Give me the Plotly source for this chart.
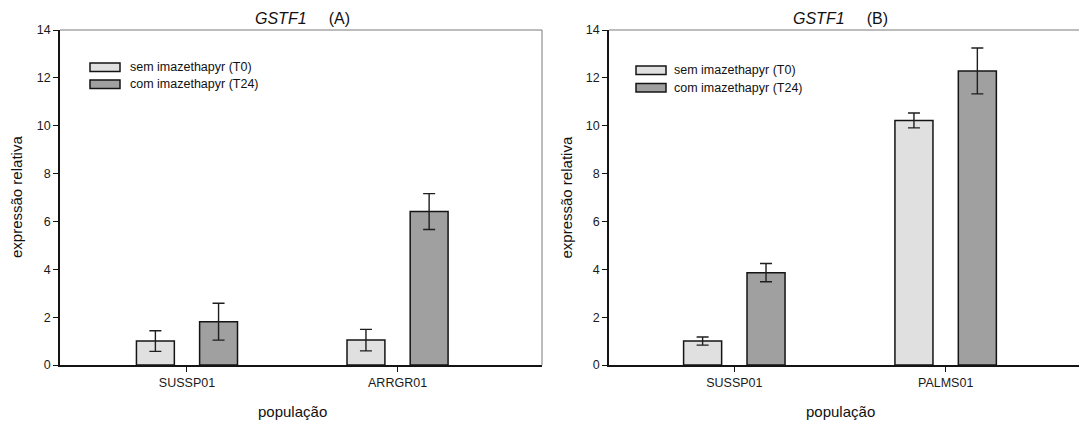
import plotly.graph_objects as go

# Relative GSTF1 expression, two experiments (A) and (B)
pops_a = ["SUSSP01", "ARRGR01"]
t0_a = [1.00, 1.04]
t0_a_err = [0.43, 0.45]
t24_a = [1.81, 6.41]
t24_a_err = [0.77, 0.75]

pops_b = ["SUSSP01", "PALMS01"]
t0_b = [1.00, 10.22]
t0_b_err = [0.17, 0.31]
t24_b = [3.86, 12.29]
t24_b_err = [0.38, 0.96]

series_names = ["sem imazethapyr (T0)", "com imazethapyr (T24)"]
y_ticks = [0, 2, 4, 6, 8, 10, 12, 14]

W, H = 1079, 421
FONT = "Liberation Sans, Arial, sans-serif"
LIGHT, DARK = "#e0e0e0", "#a0a0a0"
EDGE = "#141414"


def px(x):
    return x / W


def py(y):
    return 1 - y / H


fig = go.Figure()

panels = [
    dict(x="x", y="y", pops=pops_a, t0=t0_a, t0e=t0_a_err, t24=t24_a, t24e=t24_a_err),
    dict(x="x2", y="y2", pops=pops_b, t0=t0_b, t0e=t0_b_err, t24=t24_b, t24e=t24_b_err),
]

bar_w = 0.18
shift = 0.15
for p in panels:
    pos = list(range(len(p["pops"])))
    for vals, errs, col, off in [
        (p["t0"], p["t0e"], LIGHT, -shift - bar_w / 2),
        (p["t24"], p["t24e"], DARK, shift - bar_w / 2),
    ]:
        fig.add_trace(go.Bar(
            x=pos, y=vals, xaxis=p["x"], yaxis=p["y"],
            width=bar_w, offset=off,
            marker=dict(color=col, line=dict(color=EDGE, width=1.5)),
            error_y=dict(type="data", array=errs, visible=True,
                         color="#1e1e1e", thickness=1.4, width=6),
            showlegend=False,
        ))

ydom = [py(365), py(30)]
axis_common = dict(
    showgrid=False, zeroline=False, showline=True, linecolor=EDGE, linewidth=1.5,
    ticks="outside", ticklen=5, tickwidth=1, tickcolor=EDGE, automargin=False,
    tickfont=dict(family=FONT, size=12.5, color="#1a1a1a"),
)

fig.update_layout(
    width=W, height=H, autosize=False,
    margin=dict(l=0, r=0, t=0, b=0, pad=0),
    paper_bgcolor="white", plot_bgcolor="white",
    barmode="overlay",
    xaxis=dict(domain=[px(60), px(542)], range=[-0.603, 1.686],
               tickvals=[0, 1], ticktext=pops_a, anchor="y", **axis_common),
    yaxis=dict(domain=ydom, range=[0, 14], tickvals=y_ticks, anchor="x", **axis_common),
    xaxis2=dict(domain=[px(609), 1.0], range=[-0.593, 1.631],
                tickvals=[0, 1], ticktext=pops_b, anchor="y2", **axis_common),
    yaxis2=dict(domain=ydom, range=[0, 14], tickvals=y_ticks, anchor="x2", **axis_common),
)

# frame lines on top and right
shapes = [
    dict(type="line", xref="paper", yref="paper", x0=px(60), x1=px(542), y0=py(30), y1=py(30),
         line=dict(color="#7a7a7a", width=1)),
    dict(type="line", xref="paper", yref="paper", x0=px(542), x1=px(542), y0=py(30), y1=py(365),
         line=dict(color="#7a7a7a", width=1)),
    dict(type="line", xref="paper", yref="paper", x0=px(609), x1=1.0, y0=py(30), y1=py(30),
         line=dict(color="#7a7a7a", width=1)),
]

annotations = []
# panel titles, axis titles and legends
for title, tx, xt_x, yt_x, leg_box_x, leg_text_x, leg_y in [
    ("(A)", 302, 292.5, 16.5, 90, 128, [67.3, 84.2]),
    ("(B)", 840, 840, 566, 636, 672, [70.3, 87.7]),
]:
    annotations.append(dict(
        text="<i>GSTF1</i>" + "\u00a0" * 5 + title, x=px(tx), y=py(29),
        xref="paper", yref="paper", xanchor="center", yanchor="bottom",
        showarrow=False, font=dict(family=FONT, size=16, color="#111"),
    ))
    annotations.append(dict(
        text="população", x=px(xt_x), y=py(411), xref="paper", yref="paper",
        xanchor="center", yanchor="middle", showarrow=False,
        font=dict(family=FONT, size=15, color="#111"),
    ))
    annotations.append(dict(
        text="expressão relativa", x=px(yt_x), y=py(197.5), xref="paper", yref="paper",
        xanchor="center", yanchor="middle", textangle=-90, showarrow=False,
        font=dict(family=FONT, size=15, color="#111"),
    ))
    for name, col, yc in zip(series_names, [LIGHT, DARK], leg_y):
        shapes.append(dict(
            type="rect", xref="paper", yref="paper",
            x0=px(leg_box_x), x1=px(leg_box_x + 30), y0=py(yc - 4.3), y1=py(yc + 4.3),
            fillcolor=col, line=dict(color=EDGE, width=1.5),
        ))
        annotations.append(dict(
            text=name, x=px(leg_text_x), y=py(yc), xref="paper", yref="paper",
            xanchor="left", yanchor="middle", showarrow=False,
            font=dict(family=FONT, size=12.5, color="#111"),
        ))

fig.update_layout(shapes=shapes, annotations=annotations)

fig.write_html(
    "out.html",
    config={"responsive": False, "displayModeBar": False},
    post_script="document.body.style.margin='0';document.body.style.overflow='hidden';",
)
